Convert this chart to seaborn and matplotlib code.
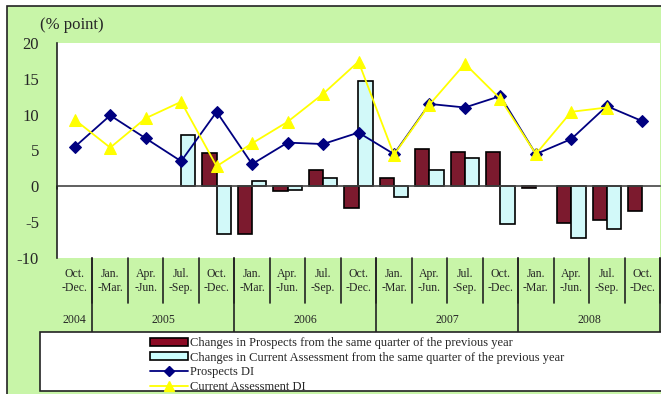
import numpy as np
import pandas as pd
import matplotlib
matplotlib.use("Agg")
import matplotlib.pyplot as plt
from matplotlib.patches import Patch, Rectangle
from matplotlib.lines import Line2D
import seaborn as sns

# quarters and years
quarters = ["Oct.\n-Dec.", "Jan.\n-Mar.", "Apr.\n-Jun.", "Jul.\n-Sep.", "Oct.\n-Dec.",
            "Jan.\n-Mar.", "Apr.\n-Jun.", "Jul.\n-Sep.", "Oct.\n-Dec.",
            "Jan.\n-Mar.", "Apr.\n-Jun.", "Jul.\n-Sep.", "Oct.\n-Dec.",
            "Jan.\n-Mar.", "Apr.\n-Jun.", "Jul.\n-Sep.", "Oct.\n-Dec."]
years = ["2004", "2005", "2006", "2007", "2008"]
year_spans = [1, 4, 4, 4, 4]

# values (% point)
prospects_chg = [np.nan, np.nan, np.nan, np.nan, 4.6, -6.7, -0.6, 2.3, -3.0,
                 1.1, 5.2, 4.8, 4.8, -0.2, -5.1, -4.7, -3.5]
current_chg = [np.nan, np.nan, np.nan, 7.1, -6.6, 0.7, -0.5, 1.1, 14.7,
               -1.5, 2.3, 4.0, -5.2, np.nan, -7.2, -6.0, np.nan]
prospects_di = [5.5, 9.9, 6.7, 3.5, 10.4, 3.1, 6.1, 5.9, 7.5,
                4.5, 11.5, 11.0, 12.6, 4.5, 6.6, 11.2, 9.1]
current_di = [9.3, 5.4, 9.5, 11.8, 2.8, 6.0, 9.0, 12.9, 17.4,
              4.4, 11.4, 17.1, 12.2, 4.5, 10.4, 11.0, np.nan]

labels = {
    "pc": "Changes in Prospects from the same quarter of the previous year",
    "cc": "Changes in Current Assessment from the same quarter of the previous year",
    "pd": "Prospects DI",
    "cd": "Current Assessment DI",
}

GREEN = "#C8F5A8"
RED = "#8C0A24"
CYAN = "#CCFFFF"
BLUE = "#000080"
YELLOW = "#FFFF00"

sns.set_style("white")
plt.rcParams['font.family'] = ['Liberation Serif', 'DejaVu Serif']

keys = [f"q{i}" for i in range(len(quarters))]
bars = pd.DataFrame({
    "q": keys * 2,
    "value": prospects_chg + current_chg,
    "series": [labels["pc"]] * len(keys) + [labels["cc"]] * len(keys),
})

W, H = 661, 394
fig = plt.figure(figsize=(W / 100, H / 100), dpi=100)
fig.patch.set_facecolor("white")

# outer green frame
fig.add_artist(Rectangle((7 / W, -0.05), 1.1, 1 - 6 / H + 0.05, transform=fig.transFigure,
                         facecolor=GREEN, edgecolor="#222222", linewidth=1.2, zorder=0))

ax = fig.add_axes([57 / W, (H - 258) / H, 603 / W, 215 / H])
ax.set_facecolor("white")

sns.barplot(data=bars, x="q", y="value", hue="series", order=keys,
            palette=[RED, CYAN], edgecolor="black", linewidth=1.2,
            width=0.8, errorbar=None, legend=False, ax=ax, zorder=2)

xs = np.arange(len(quarters))
sns.lineplot(x=xs, y=prospects_di, color=BLUE, marker="D", markersize=6.5,
             markeredgecolor=BLUE, linewidth=1.3, ax=ax, zorder=3)
sns.lineplot(x=xs, y=current_di, color=YELLOW, marker="^", markersize=9,
             markeredgecolor=YELLOW, linewidth=1.3, ax=ax, zorder=4)

ax.set_xlim(-0.5, len(quarters) - 0.5)
ax.set_ylim(-10, 20)
ax.set_xlabel("")
ax.set_ylabel("")

for s in ["top", "right"]:
    ax.spines[s].set_visible(False)
ax.spines["left"].set_color("#222222")
ax.spines["left"].set_linewidth(1.2)
ax.spines["bottom"].set_position(("data", 0))
ax.spines["bottom"].set_color("#444444")
ax.spines["bottom"].set_linewidth(1.2)

ax.set_xticks([])
ax.set_xticks(xs[:-1] + 0.5, minor=True)
ax.tick_params(axis="x", which="minor", direction="in", length=3, color="#444444")

yt = list(range(-10, 25, 5))
ax.set_yticks(yt)
ax.set_yticklabels([str(v) for v in yt], fontsize=12)
ax.tick_params(axis="y", direction="in", length=5, pad=13, color="#222222")

fig.text(40 / W, 1 - 25 / H, "(% point)", fontsize=12, va="center", ha="left")

# category label table below the plot
def ay(py):
    return (258 - py) / 215

line_kw = dict(color="#222222", linewidth=1.2, clip_on=False, zorder=5)
ax.plot([-0.5, -0.5], [ay(258), ay(332)], **line_kw)
for i in range(len(quarters)):
    ax.plot([i + 0.5, i + 0.5], [ay(258), ay(303)], transform=ax.get_xaxis_transform(), **line_kw)
    ax.text(i, ay(281), quarters[i], transform=ax.get_xaxis_transform(), ha="center", va="center",
            fontsize=8.5, linespacing=1.2)
pos = -0.5
for y, n in zip(years, year_spans):
    ax.plot([pos + n, pos + n], [ay(258), ay(332)], transform=ax.get_xaxis_transform(), **line_kw)
    ax.text(pos + n / 2, ay(320), y, transform=ax.get_xaxis_transform(), ha="center", va="center",
            fontsize=8.5)
    pos += n

# legend box
fig.add_artist(Rectangle((40 / W, (H - 391) / H), 1, 59 / H, transform=fig.transFigure,
                         facecolor="white", edgecolor="#222222", linewidth=1.2, zorder=6))
handles = [
    Patch(facecolor=RED, edgecolor="black", linewidth=1.2),
    Patch(facecolor=CYAN, edgecolor="black", linewidth=1.2),
    Line2D([], [], color=BLUE, marker="D", markersize=5, linewidth=1.3),
    Line2D([], [], color=YELLOW, marker="^", markersize=7, linewidth=1.3),
]
leg = fig.legend(handles, [labels["pc"], labels["cc"], labels["pd"], labels["cd"]],
                 loc="upper left", bbox_to_anchor=(150 / W, (H - 337) / H),
                 frameon=False, fontsize=9, handlelength=3.0, handleheight=0.6,
                 handletextpad=0.2, labelspacing=0.22, borderpad=0, borderaxespad=0)
leg.set_zorder(7)

fig.savefig("out.png", dpi=100, facecolor=fig.get_facecolor())
